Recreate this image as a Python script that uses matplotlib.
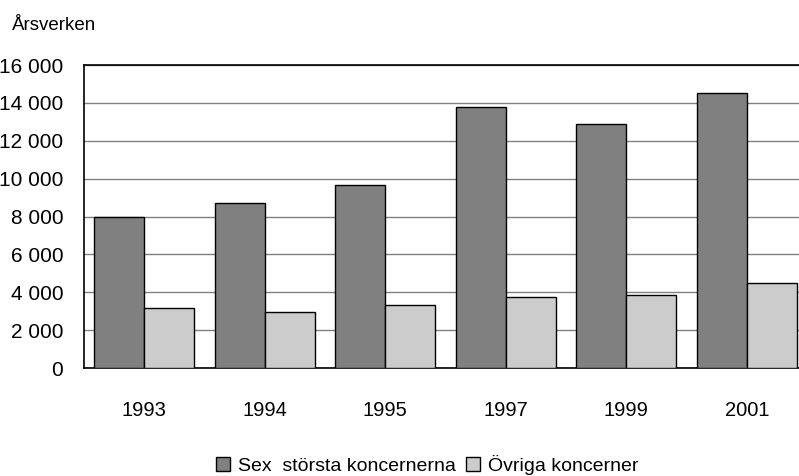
import numpy as np
import matplotlib
matplotlib.use("Agg")
import matplotlib.pyplot as plt

# data
years = ["1993", "1994", "1995", "1997", "1999", "2001"]
sex_storsta = [7950, 8700, 9650, 13800, 12900, 14500]
ovriga = [3150, 2950, 3350, 3750, 3850, 4500]
yticks = [0, 2000, 4000, 6000, 8000, 10000, 12000, 14000, 16000]
ytick_labels = ["0", "2 000", "4 000", "6 000", "8 000", "10 000", "12 000", "14 000", "16 000"]

plt.rcParams['font.family'] = ['Liberation Sans', 'DejaVu Sans']

W, H = 799, 476
fig = plt.figure(figsize=(W / 100, H / 100), dpi=100)
ax = fig.add_axes([84 / W, (H - 368) / H, 723 / W, 303 / H])

x = np.arange(len(years))
w = 0.415
ax.bar(x - w / 2, sex_storsta, w, color="#808080", edgecolor="black", linewidth=1,
       label="Sex  största koncernerna", zorder=3)
ax.bar(x + w / 2, ovriga, w, color="#cccccc", edgecolor="black", linewidth=1,
       label="Övriga koncerner", zorder=3)

ax.set_xlim(-0.5, 5.5)
ax.set_ylim(0, 16000)
ax.set_yticks(yticks)
ax.set_yticklabels(ytick_labels)
ax.set_xticks(x)
ax.set_xticklabels(years)
ax.tick_params(axis="y", length=0, pad=15, labelsize=15)
ax.tick_params(axis="x", length=0, pad=24, labelsize=14.5)
ax.grid(axis="y", color="#808080", linewidth=1, zorder=0)
ax.set_axisbelow(True)

for side in ["left", "bottom", "top"]:
    ax.spines[side].set_color("black")
    ax.spines[side].set_linewidth(1.2)
ax.spines["right"].set_visible(False)

fig.text(12 / W, 1 - 25 / H, "Årsverken", fontsize=13.5, ha="left", va="center")

fig.legend(loc="center", bbox_to_anchor=(427 / W, 1 - 465 / H), ncol=2, frameon=False,
           fontsize=14, handlelength=0.75, handleheight=0.75, handletextpad=0.4,
           columnspacing=0.5, borderpad=0)

fig.savefig("out.png", dpi=100)
